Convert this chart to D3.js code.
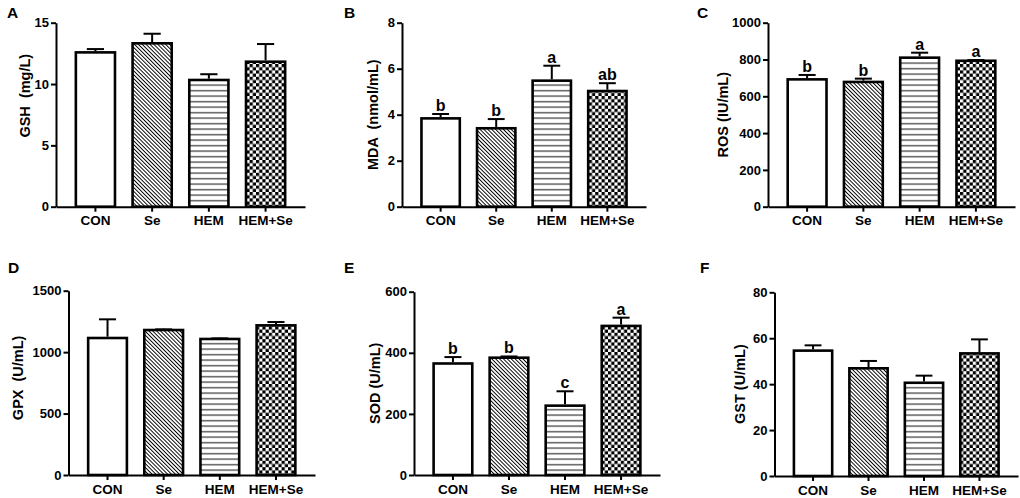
<!DOCTYPE html>
<html>
<head>
<meta charset="utf-8">
<script src="https://cdn.jsdelivr.net/npm/d3@7"></script>
<style>
  body { margin: 0; background: #fff; }
  svg text { font-family: "Liberation Sans", Arial, sans-serif; font-weight: bold; fill: #000; }
  .axis path, .axis line { stroke: #000; stroke-width: 2px; }
</style>
</head>
<body>
<div id="container"></div>
<script>
// DATA
const groups = ["CON", "Se", "HEM", "HEM+Se"];

const gshMean = [12.58, 13.32, 10.33, 11.82];
const gshSD   = [0.27, 0.78, 0.47, 1.44];
const gshTicks = [0, 5, 10, 15];

const mdaMean = [3.84, 3.41, 5.48, 5.03];
const mdaSD   = [0.19, 0.40, 0.65, 0.34];
const mdaTicks = [0, 2, 4, 6, 8];
const mdaSig  = ["b", "b", "a", "ab"];

const rosMean = [692, 678, 810, 793];
const rosSD   = [24, 18, 27, 4];
const rosTicks = [0, 200, 400, 600, 800, 1000];
const rosSig  = ["b", "b", "a", "a"];

const gpxMean = [1115, 1180, 1107, 1218];
const gpxSD   = [152, 5, 5, 27];
const gpxTicks = [0, 500, 1000, 1500];

const sodMean = [365, 384, 227, 488];
const sodSD   = [21, 4, 47, 27];
const sodTicks = [0, 200, 400, 600];
const sodSig  = ["b", "b", "c", "a"];

const gstMean = [54.6, 46.9, 40.6, 53.4];
const gstSD   = [2.3, 3.2, 3.1, 6.1];
const gstTicks = [0, 20, 40, 60, 80];

// PANEL LAYOUT
const panels = [
  {letter: "A", lx: 7,   ly: 18,  label: "GSH  (mg/L)",    mean: gshMean, sd: gshSD, ticks: gshTicks, sig: null,
   x0: 56,  x1: 305,  top: 22.7,  bottom: 206.7, labelX: 25,  labelShift: -19},
  {letter: "B", lx: 344, ly: 18,  label: "MDA  (nmol/mL)", mean: mdaMean, sd: mdaSD, ticks: mdaTicks, sig: mdaSig,
   x0: 402, x1: 646,  top: 22.7,  bottom: 206.7, labelX: 373, labelShift: 0},
  {letter: "C", lx: 697, ly: 18,  label: "ROS (IU/mL)",    mean: rosMean, sd: rosSD, ticks: rosTicks, sig: rosSig,
   x0: 768, x1: 1015, top: 22.7,  bottom: 206.7, labelX: 723, labelShift: 0},
  {letter: "D", lx: 8,   ly: 273, label: "GPX  (U/mL)",    mean: gpxMean, sd: gpxSD, ticks: gpxTicks, sig: null,
   x0: 68.5, x1: 315, top: 290.7, bottom: 475,   labelX: 18,  labelShift: -5},
  {letter: "E", lx: 344, ly: 273, label: "SOD (U/mL)",     mean: sodMean, sd: sodSD, ticks: sodTicks, sig: sodSig,
   x0: 414, x1: 660,  top: 291.7, bottom: 475,   labelX: 375, labelShift: 0},
  {letter: "F", lx: 700, ly: 273, label: "GST (U/mL)",     mean: gstMean, sd: gstSD, ticks: gstTicks, sig: null,
   x0: 774.5, x1: 1018, top: 292.3, bottom: 476, labelX: 740, labelShift: 0}
];

const width = 1020, height = 498;

const svg = d3.select("#container").append("svg")
  .attr("width", width)
  .attr("height", height);

// PATTERNS
const defs = svg.append("defs");

const diag = defs.append("pattern")
  .attr("id", "pat-diag")
  .attr("patternUnits", "userSpaceOnUse")
  .attr("width", 2.75).attr("height", 10)
  .attr("patternTransform", "rotate(-45)");
diag.append("rect").attr("width", 2.75).attr("height", 10).attr("fill", "#fff");
diag.append("rect").attr("width", 0.95).attr("height", 10).attr("fill", "#000");

const horiz = defs.append("pattern")
  .attr("id", "pat-horiz")
  .attr("patternUnits", "userSpaceOnUse")
  .attr("width", 10).attr("height", 5.5);
horiz.append("rect").attr("width", 10).attr("height", 5.5).attr("fill", "#fff");
horiz.append("rect").attr("y", 2).attr("width", 10).attr("height", 1.3).attr("fill", "#444");

const check = defs.append("pattern")
  .attr("id", "pat-check")
  .attr("patternUnits", "userSpaceOnUse")
  .attr("width", 6.4).attr("height", 6.4);
check.append("rect").attr("width", 6.4).attr("height", 6.4).attr("fill", "#fff");
check.append("rect").attr("width", 3.2).attr("height", 3.2).attr("fill", "#000");
check.append("rect").attr("x", 3.2).attr("y", 3.2).attr("width", 3.2).attr("height", 3.2).attr("fill", "#000");

const fills = d3.scaleOrdinal()
  .domain(groups)
  .range(["#fff", "url(#pat-diag)", "url(#pat-horiz)", "url(#pat-check)"]);

// DRAW EACH PANEL
panels.forEach(p => {
  const rows = groups.map((g, i) => ({group: g, mean: p.mean[i], sd: p.sd[i], sig: p.sig ? p.sig[i] : null}));

  const xScale = d3.scaleBand()
    .domain(groups)
    .range([p.x0, p.x1])
    .paddingInner(0.31)
    .paddingOuter(0.35);

  const yScale = d3.scaleLinear()
    .domain([0, d3.max(p.ticks)])
    .range([p.bottom, p.top]);

  const g = svg.append("g");

  // panel letter
  svg.append("text")
    .attr("x", p.lx).attr("y", p.ly)
    .style("font-size", "15.5px")
    .text(p.letter);

  // y axis label
  g.append("text")
    .attr("transform", "rotate(-90)")
    .attr("x", -((p.top + p.bottom) / 2 + p.labelShift))
    .attr("y", p.labelX)
    .attr("text-anchor", "middle")
    .attr("dominant-baseline", "central")
    .style("white-space", "pre")
    .style("font-size", "14.5px")
    .text(p.label);

  // bars
  g.selectAll(".bar")
    .data(rows)
    .enter()
      .append("rect")
      .attr("class", "bar")
      .attr("x", d => xScale(d.group))
      .attr("y", d => yScale(d.mean))
      .attr("width", xScale.bandwidth())
      .attr("height", d => yScale(0) - yScale(d.mean))
      .attr("fill", d => fills(d.group))
      .attr("stroke", "#000")
      .attr("stroke-width", 2.6);

  // error bars (upper only)
  const capW = xScale.bandwidth() * 0.44;
  const err = g.selectAll(".err")
    .data(rows)
    .enter()
      .append("g")
      .attr("class", "err");

  err.append("line")
    .attr("x1", d => xScale(d.group) + xScale.bandwidth() / 2)
    .attr("x2", d => xScale(d.group) + xScale.bandwidth() / 2)
    .attr("y1", d => yScale(d.mean) - 1.3)
    .attr("y2", d => yScale(d.mean + d.sd))
    .attr("stroke", "#000")
    .attr("stroke-width", 2);

  err.append("line")
    .attr("x1", d => xScale(d.group) + xScale.bandwidth() / 2 - capW / 2)
    .attr("x2", d => xScale(d.group) + xScale.bandwidth() / 2 + capW / 2)
    .attr("y1", d => yScale(d.mean + d.sd))
    .attr("y2", d => yScale(d.mean + d.sd))
    .attr("stroke", "#000")
    .attr("stroke-width", 2);

  // significance letters
  if (p.sig) {
    g.selectAll(".sig")
      .data(rows)
      .enter()
        .append("text")
        .attr("class", "sig")
        .attr("x", d => xScale(d.group) + xScale.bandwidth() / 2)
        .attr("y", d => yScale(d.mean + d.sd) - 3)
        .attr("text-anchor", "middle")
        .style("font-size", "16px")
        .text(d => d.sig);
  }

  // AXES
  const yAxis = d3.axisLeft(yScale)
    .tickValues(p.ticks)
    .tickSize(5)
    .tickSizeOuter(0)
    .tickPadding(2)
    .tickFormat(d3.format("d"));

  const xAxis = d3.axisBottom(xScale)
    .tickSize(5)
    .tickSizeOuter(0)
    .tickPadding(4);

  g.append("g")
    .attr("class", "axis")
    .attr("transform", `translate(${p.x0},0)`)
    .call(yAxis)
    .call(a => a.selectAll("text").style("font-size", "13px"));

  g.append("g")
    .attr("class", "axis")
    .attr("transform", `translate(0,${p.bottom})`)
    .call(xAxis)
    .call(a => a.selectAll("text").style("font-size", "13.5px"));
});
</script>
</body>
</html>
